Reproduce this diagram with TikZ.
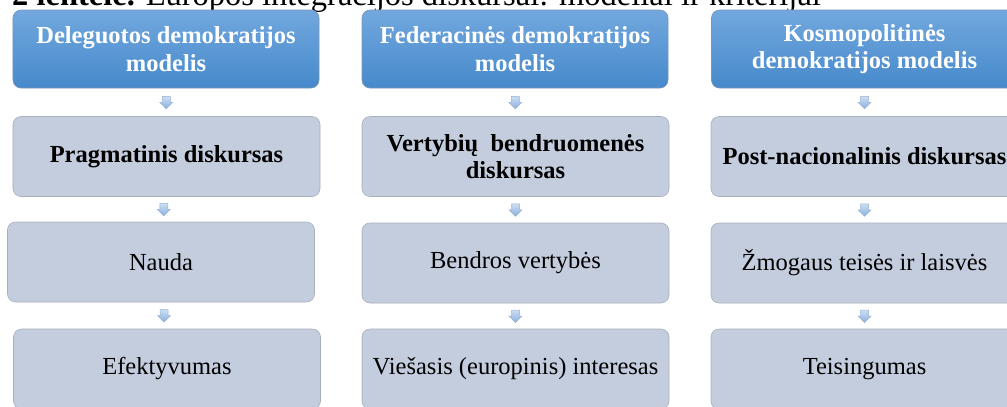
\documentclass[tikz,border=0pt]{standalone}
\usepackage{fontspec}
\setmainfont{Liberation Serif}
\usetikzlibrary{calc}
\definecolor{hdrtop}{RGB}{114,168,222}
\definecolor{hdrbot}{RGB}{70,137,203}
\definecolor{hdrline}{RGB}{120,150,185}
\definecolor{boxfill}{RGB}{196,205,222}
\definecolor{boxline}{RGB}{168,176,190}
\definecolor{arrtop}{RGB}{205,222,242}
\definecolor{arrbot}{RGB}{138,176,222}
\definecolor{arrline}{RGB}{150,178,212}
\tikzset{
  hdr/.style={rounded corners=8bp, top color=hdrtop, bottom color=hdrbot, draw=hdrline, line width=0.6bp,
    minimum width=306bp, minimum height=78bp, inner sep=0pt, align=center, text=white,
    font=\fontsize{24.5bp}{27.5bp}\selectfont\bfseries},
  body/.style={rounded corners=8bp, fill=boxfill, draw=boxline, line width=0.6bp,
    minimum width=307bp, minimum height=80bp, inner sep=0pt, align=center, text=black,
    font=\fontsize{24.5bp}{27.5bp}\selectfont},
  bodyb/.style={body, font=\fontsize{24.5bp}{27.5bp}\selectfont\bfseries},
  downarr/.pic={
    \draw[top color=arrtop, bottom color=arrbot, draw=arrline, line width=0.5bp]
      (-4,-6) -- (4,-6) -- (4,0) -- (6.5,0) -- (0,6.5) -- (-6.5,0) -- (-4,0) -- cycle;
  }
}
\begin{document}
\begin{tikzpicture}[x=1bp,y=-1bp]
\useasboundingbox (0,0) rectangle (1007,406);
\clip (0,0) rectangle (1007,406);
\node[anchor=base west, inner sep=0pt, font=\fontsize{32.5bp}{34bp}\selectfont] (title) at (12,5)
  {\textbf{2 lentelė.} Europos integracijos diskursai: modeliai ir kriterijai};
% column 1
\node[hdr] (h1) at (166,49) {Deleguotos demokratijos\\modelis};
\node[bodyb] (a1) at (166.5,156.5) {Pragmatinis diskursas};
\node[body] (b1) at (161,262) {Nauda};
\node[body] (c1) at (167,369) {Efektyvumas};
% column 2
\node[hdr] (h2) at (515,49) {Federacinės demokratijos\\modelis};
\node[bodyb] (a2) at (515.5,156.5) {Vertybių\ \ bendruomenės\\diskursas};
\node[body] (b2) at (515.5,263) {Bendros vertybės};
\node[body] (c2) at (515.5,369) {Viešasis (europinis) interesas};
% column 3
\node[hdr] (h3) at (864.5,49) {Kosmopolitinės\\demokratijos modelis};
\node[bodyb] (a3) at (864.5,156.5) {Post-nacionalinis diskursas};
\node[body] (b3) at (864.5,263) {Žmogaus teisės ir laisvės};
\node[body] (c3) at (864.5,369) {Teisingumas};
% arrows
\foreach \u/\v in {h1/a1, a1/b1, b1/c1, h2/a2, a2/b2, b2/c2, h3/a3, a3/b3, b3/c3}{
  \pic at ($(\u.south)!0.5!(\v.north)$) {downarr};
}
\end{tikzpicture}
\end{document}
